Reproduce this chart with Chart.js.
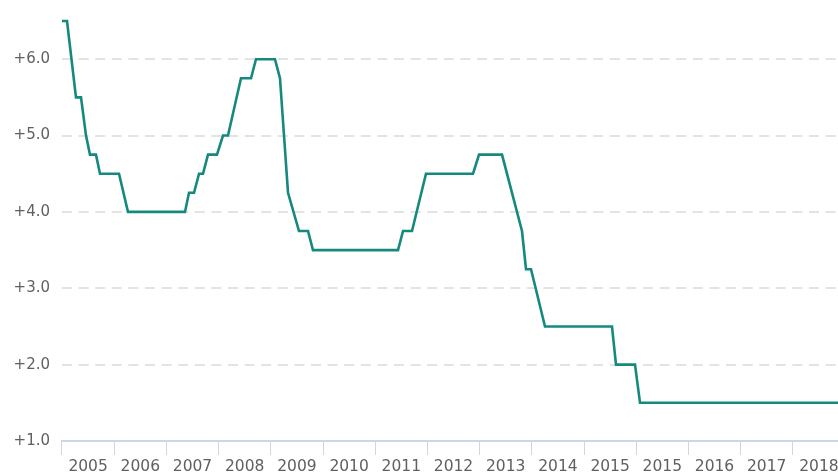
<!DOCTYPE html>
<html>
<head>
<meta charset="utf-8">
<script src="https://cdn.jsdelivr.net/npm/chart.js@4/dist/chart.umd.min.js"></script>
<style>
  html, body { margin: 0; padding: 0; background: #ffffff; overflow: hidden; }
  #wrap { position: relative; width: 846px; height: 473px; }
</style>
</head>
<body>
<div id="wrap"><canvas id="c"></canvas></div>
<script>
// Tick labels of the horizontal axis (as printed in the reference)
const yearLabels = ['2005','2006','2007','2008','2009','2010','2011','2012','2013','2014','2015','2015','2016','2017','2018'];

// Position along the time axis, in label-interval units (0 = left edge of first interval)
const periods = [0.000, 0.096, 0.268, 0.364, 0.460, 0.536, 0.651, 0.728, 1.092, 1.264,
                 2.356, 2.433, 2.529, 2.625, 2.701, 2.797, 2.969, 3.084, 3.180, 3.429,
                 3.621, 3.716, 4.080, 4.176, 4.330, 4.540, 4.713, 4.808, 6.437, 6.533,
                 6.705, 6.973, 7.874, 7.989, 8.429, 8.812, 8.889, 8.985, 9.253, 10.536,
                 10.613, 10.977, 11.073, 15.000];

// Interest rate (%)
const rates = [6.5, 6.5, 5.5, 5.5, 5.0, 4.75, 4.75, 4.5, 4.5, 4.0,
               4.0, 4.25, 4.25, 4.5, 4.5, 4.75, 4.75, 5.0, 5.0, 5.75,
               5.75, 6.0, 6.0, 5.75, 4.25, 3.75, 3.75, 3.5, 3.5, 3.75,
               3.75, 4.5, 4.5, 4.75, 4.75, 3.75, 3.25, 3.25, 2.5, 2.5,
               2.0, 2.0, 1.5, 1.5];

const yTicks = [1, 2, 3, 4, 5, 6];

const points = periods.map((p, i) => ({ x: p, y: rates[i] }));

new Chart(document.getElementById('c'), {
  type: 'line',
  data: {
    labels: yearLabels,
    datasets: [{
      data: points,
      xAxisID: 'x2',
      borderColor: '#15897d',
      borderWidth: 2.6,
      pointRadius: 0,
      tension: 0,
      fill: false,
      clip: false
    }]
  },
  options: {
    responsive: true,
    maintainAspectRatio: false,
    animation: false,
    layout: { padding: { top: 20, right: 1, left: 0, bottom: 0 } },
    plugins: { legend: { display: false }, tooltip: { enabled: false } },
    scales: {
      x: {
        type: 'category',
        position: 'bottom',
        offset: true,
        grid: {
          offset: true,
          drawOnChartArea: false,
          drawTicks: true,
          tickLength: 14,
          color: '#ccd6eb',
          lineWidth: 1
        },
        border: { display: true, color: '#ccd6eb', width: 2 },
        ticks: {
          autoSkip: false,
          maxRotation: 0,
          minRotation: 0,
          padding: 3,
          color: '#606060',
          font: { family: 'DejaVu Sans', size: 15.5 }
        },
        afterFit: (s) => { s.height = 32; }
      },
      x2: {
        type: 'linear',
        display: false,
        position: 'bottom',
        min: 0,
        max: yearLabels.length
      },
      y: {
        type: 'linear',
        min: 1,
        max: 6.5,
        border: { display: false, dash: [10, 6.6] },
        afterBuildTicks: (s) => { s.ticks = yTicks.map(v => ({ value: v })); },
        grid: {
          drawTicks: false,
          color: (ctx) => (ctx.tick && ctx.tick.value === 1) ? 'rgba(0,0,0,0)' : '#e3e3e3',
          lineWidth: 2
        },
        ticks: {
          padding: 12,
          color: '#606060',
          font: { family: 'DejaVu Sans', size: 15 },
          callback: (v) => '+' + Number(v).toFixed(1)
        },
        afterFit: (s) => { s.width = 62; }
      }
    }
  }
});
</script>
</body>
</html>
